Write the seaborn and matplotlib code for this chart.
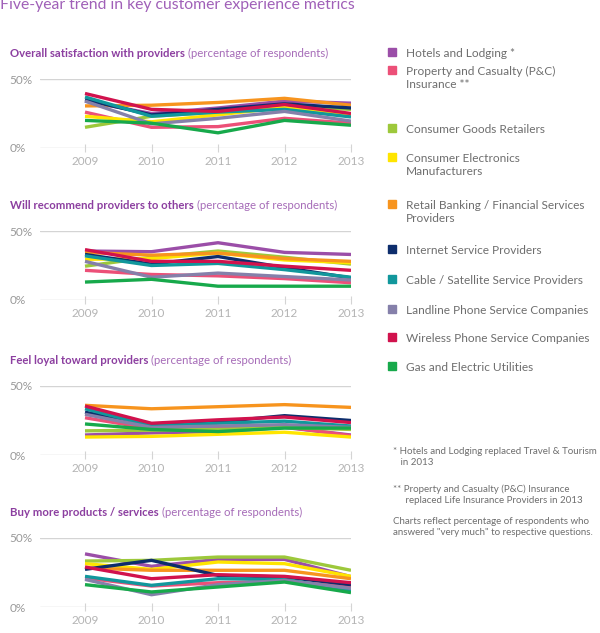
import matplotlib
matplotlib.use("Agg")
import matplotlib.pyplot as plt
import seaborn as sns
import pandas as pd
from matplotlib.patches import Rectangle

years = [2009, 2010, 2011, 2012, 2013]
categories = [
    "Hotels and Lodging *",
    "Property and Casualty (P&C)\nInsurance **",
    "Consumer Goods Retailers",
    "Consumer Electronics\nManufacturers",
    "Retail Banking / Financial Services\nProviders",
    "Internet Service Providers",
    "Cable / Satellite Service Providers",
    "Landline Phone Service Companies",
    "Wireless Phone Service Companies",
    "Gas and Electric Utilities",
]
colors = ["#9b4ea8", "#ec5078", "#9dc83b", "#ffe500", "#f7941e",
          "#0d2d6c", "#11979c", "#8580aa", "#d1124d", "#17a94b"]

satisfaction = [
    [34, 25, 29, 34, 32.5],
    [26, 15, 15.5, 21.5, 18],
    [15, 23, 26, 30, 28],
    [23, 19, 24, 29.5, 24],
    [30.5, 31, 33, 36, 31],
    [35, 24, 28, 32, 29],
    [37, 23, 26, 28, 22.5],
    [34, 17.5, 21.5, 26.5, 19.5],
    [39.5, 28, 26.5, 31.5, 25],
    [20, 18, 11, 20, 16.5],
]
recommend = [
    [35.5, 35, 41.5, 34.5, 33],
    [21.5, 18.5, 17.5, 15.5, 12.5],
    [24.5, 31, 35.5, 31, 26],
    [29.5, 30, 34, 29, 27],
    [34.5, 32.5, 34, 30, 28],
    [33, 26, 31.5, 23.5, 16],
    [32, 25, 26.5, 22, 16.5],
    [28, 16.5, 19.5, 17, 14.5],
    [36.5, 28, 28, 24.5, 21.5],
    [13, 15, 10, 10, 10],
]
loyal = [
    [14.5, 16, 17, 20, 14.5],
    [27, 19, 19.5, 20.5, 14],
    [17.5, 18, 18.5, 20, 18.5],
    [13, 13.5, 15, 16.5, 13],
    [36, 33.5, 35, 36.5, 34.5],
    [31, 22, 24, 28.5, 25],
    [33.5, 21, 23, 24.5, 21],
    [29.5, 20, 21, 22, 20],
    [35.5, 23, 25.5, 27.5, 23.5],
    [22.5, 18.5, 17, 19.5, 19.5],
]
buy_more = [
    [38.5, 29.5, 34.5, 34.5, 22],
    [21, 15.2, 17.6, 18.6, 14.5],
    [33.3, 33.8, 36.2, 36.2, 26.6],
    [31.4, 27.3, 32.6, 31.4, 22.2],
    [28.3, 26.6, 26.6, 26.6, 20.5],
    [27.3, 33.8, 22.9, 21.7, 16.2],
    [22.2, 15.7, 20.5, 20, 12],
    [20, 8.9, 16.2, 19.3, 13.5],
    [29, 20.5, 23.4, 22.2, 17.6],
    [16.2, 10.9, 14.5, 18.1, 10.4],
]
panel_titles = [
    ("Overall satisfaction with providers", satisfaction),
    ("Will recommend providers to others", recommend),
    ("Feel loyal toward providers", loyal),
    ("Buy more products / services", buy_more),
]
footnotes = [
    "* Hotels and Lodging replaced Travel & Tourism\n   in 2013",
    "** Property and Casualty (P&C) Insurance\n     replaced Life Insurance Providers in 2013",
    "Charts reflect percentage of respondents who\nanswered \"very much\" to respective questions.",
]

sns.set_theme(style="white")
plt.rcParams["font.family"] = ["Lato", "DejaVu Sans"]

W, H = 600, 633
fig = plt.figure(figsize=(6, 6.33), dpi=100)

TITLE_C = "#a060b8"
BOLD_C = "#8c3fa0"
LIGHT_C = "#a66cb8"
GRID_C = "#d4d4d4"
TXT_C = "#b4b4b4"

fig.text(0 / W, 1 - 8.5 / H, "Five-year trend in key customer experience metrics",
         fontsize=11.3, color=TITLE_C, ha="left", va="baseline")

zero_y = [148, 300, 455, 607]
palette = dict(zip(categories, colors))
for (ptitle, data), zy in zip(panel_titles, zero_y):
    rows = []
    for cat, vals in zip(categories, data):
        for yr, v in zip(years, vals):
            rows.append({"year": yr, "value": v, "category": cat})
    df = pd.DataFrame(rows)
    ax = fig.add_axes([40 / W, 1 - zy / H, 311 / W, 69 / H])
    sns.lineplot(data=df, x="year", y="value", hue="category", palette=palette,
                 hue_order=categories, linewidth=2.4, legend=False, ax=ax,
                 solid_capstyle="butt")
    ax.set_xlim(2009 - 45 / 66.5, 2013)
    ax.set_ylim(0, 50)
    ax.set_yticks([0, 50])
    ax.set_yticklabels(["0%", "50%"])
    ax.set_xticks(years)
    ax.set_xticklabels([str(y) for y in years])
    for a in ("top", "right", "left", "bottom"):
        ax.spines[a].set_visible(False)
    ax.axhline(50, color=GRID_C, lw=1, zorder=0)
    ax.axhline(0, color=GRID_C, lw=1, zorder=0)
    ax.tick_params(axis="x", direction="inout", length=6, width=0.8, color=GRID_C,
                   labelcolor=TXT_C, labelsize=8.5, pad=3, bottom=True)
    ax.tick_params(axis="y", length=0, labelcolor="#999999", labelsize=8.5, pad=22)
    for lab in ax.get_yticklabels():
        lab.set_horizontalalignment("left")
    ax.set_xlabel("")
    ax.set_ylabel("")
    # panel subtitle
    t = fig.text(10 / W, 1 - (zy - 91) / H, ptitle, fontsize=8.2, fontweight="bold",
                 color=BOLD_C, ha="left", va="baseline")
    fig.canvas.draw()
    bb = t.get_window_extent()
    fig.text(bb.x1 / W + 3 / W, 1 - (zy - 91) / H, "(percentage of respondents)",
             fontsize=8.2, color=LIGHT_C, ha="left", va="baseline")

legend_y = [52, 70, 128, 157, 204, 249, 279, 309, 337, 366]
for cat, col, ly in zip(categories, colors, legend_y):
    fig.patches.append(Rectangle((388 / W, 1 - (ly + 4) / H), 8 / W, 8 / H,
                                 transform=fig.transFigure, color=col))
    fig.text(406 / W, 1 - (ly - 4) / H, cat, fontsize=8.6, color="#6e6e6e",
             ha="left", va="top", linespacing=1.25)

foot_y = [447, 484, 517]
for ft, fy in zip(footnotes, foot_y):
    fig.text(393 / W, 1 - fy / H, ft, fontsize=7, color="#6e6e6e", ha="left",
             va="top", linespacing=1.35)

fig.savefig("out.png", dpi=100)
